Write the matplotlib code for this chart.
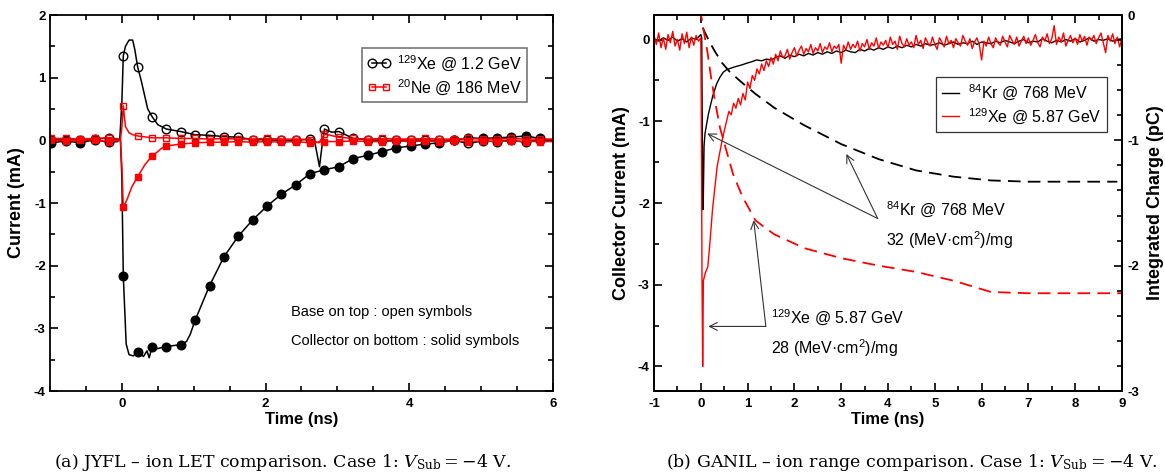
import numpy as np
import matplotlib
matplotlib.use('Agg')
import matplotlib.pyplot as plt
from matplotlib.lines import Line2D
from matplotlib.ticker import MultipleLocator

plt.rcParams['font.family'] = ['Liberation Sans', 'DejaVu Sans']
plt.rcParams['mathtext.fontset'] = 'dejavuserif'
plt.rcParams['axes.unicode_minus'] = False

# ---- (a) JYFL: base / collector currents, symbols every 0.2 ns ----
mark_t = np.round(np.arange(-0.98, 5.9, 0.2), 2)

xe_col_mk = [-0.04, -0.01, -0.04, 0.01, -0.03, -2.16, -3.37, -3.30, -3.29, -3.26,
             -2.87, -2.32, -1.86, -1.53, -1.27, -1.05, -0.86, -0.71, -0.53, -0.47,
             -0.42, -0.29, -0.24, -0.18, -0.12, -0.09, -0.06, -0.04, 0.00, 0.04,
             0.03, 0.04, 0.05, 0.07, 0.03]
xe_col_ex_t = [-0.06, -0.02, 0.0, 0.06, 0.1, 0.16, 0.3, 0.35, 0.38, 0.47, 0.9, 0.95, 5.92, 6.0]
xe_col_ex_y = [-0.02, 0.04, -0.6, -3.25, -3.42, -3.44, -3.45, -3.36, -3.47, -3.33, -3.21, -3.1, 0.01, 0.01]

xe_base_mk = [0.00, 0.01, 0.00, 0.02, 0.04, 1.35, 1.17, 0.38, 0.18, 0.14,
              0.09, 0.08, 0.06, 0.05, 0.01, 0.01, 0.00, 0.00, 0.02, 0.18,
              0.14, 0.03, 0.01, 0.00, 0.00, 0.01, 0.00, 0.00, 0.00, -0.05,
              -0.01, -0.02, 0.00, -0.03, 0.01]
xe_base_ex_t = [-0.03, 0.0, 0.05, 0.1, 0.15, 0.18, 0.27, 0.32, 0.36, 0.5, 2.68, 2.75, 2.79, 2.92, 5.92, 6.0]
xe_base_ex_y = [0.0, 0.6, 1.5, 1.6, 1.6, 1.45, 0.95, 0.7, 0.5, 0.25, 0.0, -0.42, -0.05, 0.13, 0.0, 0.0]

ne_base_mk = [0.03, 0.03, 0.02, 0.03, 0.04, 0.55, 0.07, 0.04, 0.04, 0.03,
              0.03, 0.02, 0.03, 0.02, 0.02, 0.03, 0.02, 0.02, 0.01, 0.10,
              0.05, 0.03, 0.02, 0.03, 0.02, 0.02, 0.03, 0.02, 0.02, 0.03,
              0.02, 0.02, 0.03, 0.02, 0.02]
ne_base_ex_t = [-0.02, 0.0, 0.05, 0.1, 0.15, 2.74, 5.92, 6.0]
ne_base_ex_y = [0.02, 0.2, 0.22, 0.12, 0.09, -0.04, 0.02, 0.02]

ne_col_mk = [0.00, -0.01, 0.00, 0.01, -0.02, -1.07, -0.58, -0.25, -0.09, -0.06,
             -0.04, -0.03, -0.03, -0.02, -0.03, -0.02, -0.03, -0.02, -0.04, -0.02,
             -0.02, -0.01, -0.02, -0.02, -0.01, -0.02, -0.01, -0.02, -0.01, -0.02,
             -0.01, -0.02, -0.01, -0.02, -0.02]
ne_col_ex_t = [-0.02, 0.0, 0.07, 0.14, 0.32, 0.5, 0.55, 5.92, 6.0]
ne_col_ex_y = [0.0, -0.4, -0.95, -0.74, -0.39, -0.18, -0.13, -0.02, -0.02]

# ---- (b) GANIL: collector current (mA) and integrated charge (pC) ----
kr_pre = [0.01, -0.02, 0.02, -0.01, 0.03, -0.02, 0.01, -0.03, 0.02, 0.00]
kr_spk_t = [0.0, 0.02, 0.035, 0.045, 0.055, 0.07, 0.09, 0.12, 0.16, 0.2, 0.26, 0.34,
            0.41, 0.48, 0.55, 0.62, 0.75, 0.88, 0.98, 1.1, 1.19, 1.3, 1.4, 1.5]
kr_spk_i = [0.06, 0.02, -1.4, -2.08, -1.9, -1.3, -1.15, -1.05, -0.92, -0.82, -0.68, -0.54,
            -0.46, -0.40, -0.37, -0.355, -0.33, -0.31, -0.29, -0.27, -0.25, -0.26, -0.24, -0.25]
kr_post = [-0.22, -0.20, -0.23, -0.19, -0.21, -0.18, -0.20, -0.17, -0.19, -0.16,
           -0.18, -0.15, -0.17, -0.14, -0.16, -0.13, -0.15, -0.16, -0.12, -0.14,
           -0.11, -0.13, -0.10, -0.12, -0.09, -0.11, -0.08, -0.10, -0.07, -0.09,
           -0.06, -0.08, -0.05, -0.07, -0.06, -0.04, -0.07, -0.05, -0.03, -0.06,
           -0.04, -0.05, -0.02, -0.06, -0.03, -0.04, -0.05, -0.02, -0.04, -0.01,
           -0.03, -0.05, -0.02, 0.00, -0.04, -0.02, -0.03, 0.01, -0.02, -0.04,
           -0.01, -0.03, 0.00, -0.02, 0.01, -0.03, -0.01, 0.02, -0.02, 0.00,
           -0.01, 0.01, -0.02, 0.00, 0.01]

xe_pre = [0.05, -0.06, 0.08, -0.10, 0.02, -0.12, 0.06, -0.04, 0.10, -0.08,
          0.00, -0.13, 0.07, -0.05, 0.09, -0.10, 0.03, -0.07, 0.05, -0.02]
xe_spk_t = [0.0, 0.015, 0.025, 0.04, 0.055, 0.1, 0.15, 0.2, 0.25, 0.3, 0.35, 0.4, 0.45]
xe_spk_i = [0.02, -1.3, -2.85, -4.0, -2.95, -2.85, -2.78, -2.45, -2.08, -1.82, -1.55, -1.4, -1.25]
xe_post = [-1.12, -1.00, -0.88, -0.92, -0.78, -0.84, -0.72, -0.80, -0.66, -0.74,
           -0.52, -0.60, -0.44, -0.50, -0.36, -0.42, -0.30, -0.38, -0.26, -0.33,
           -0.22, -0.30, -0.18, -0.26, -0.14, -0.22, -0.20, -0.12, -0.24, -0.16,
           -0.10, -0.20, -0.13, -0.08, -0.18, -0.11, -0.15, -0.06, -0.17, -0.10,
           -0.14, -0.05, -0.16, -0.09, -0.12, -0.04, -0.15, -0.08, -0.11, -0.06,
           -0.29, -0.07, -0.13, -0.03, -0.12, -0.06, -0.10, -0.02, -0.14, -0.05,
           -0.09, 0.00, -0.12, -0.04, -0.08, 0.02, -0.11, -0.03, -0.07, -0.01,
           -0.10, 0.03, -0.06, -0.02, -0.12, 0.04, -0.05, -0.09, 0.01, -0.07,
           -0.03, -0.10, 0.05, -0.06, -0.01, -0.11, 0.02, -0.04, -0.08, 0.03,
           -0.06, -0.12, 0.02, -0.03, -0.09, 0.04, -0.05, -0.01, -0.10, 0.01,
           -0.04, -0.08, 0.05, -0.02, -0.07, 0.01, -0.11, -0.03, 0.02, -0.06,
           -0.25, -0.02, -0.08, 0.03, -0.05, -0.10, 0.02, -0.04, -0.07, 0.04,
           -0.03, -0.09, 0.05, -0.01, -0.06, 0.03, -0.08, -0.02, 0.04, -0.05,
           0.02, -0.07, -0.01, 0.06, -0.04, -0.09, 0.03, -0.02, 0.07, -0.05,
           0.01, 0.17, -0.06, 0.03, -0.03, 0.08, -0.08, -0.01, 0.05, -0.04,
           0.02, -0.06, 0.06, -0.02, 0.04, -0.07, 0.03, -0.01, 0.05, -0.05,
           0.02, 0.08, -0.04, -0.16, 0.05, -0.02, 0.07, -0.05, 0.03, -0.09,
           0.02]

kr_q_t = [-1.0, 0.0, 0.05, 0.18, 0.3, 0.45, 0.61, 0.85, 1.17, 1.57, 2.21, 3.0, 3.8, 4.6, 5.4, 6.2, 7.0, 7.8, 8.9]
kr_q = [0.0, 0.0, -0.11, -0.21, -0.29, -0.38, -0.45, -0.53, -0.63, -0.74, -0.88, -1.03, -1.15,
        -1.24, -1.29, -1.32, -1.33, -1.33, -1.33]
xe_q_t = [-1.0, 0.0, 0.05, 0.14, 0.22, 0.3, 0.41, 0.53, 0.69, 0.89, 1.17, 1.57, 2.21, 3.0, 3.8,
          4.6, 5.4, 6.2, 7.0, 7.8, 9.0]
xe_q = [0.0, 0.0, -0.1, -0.29, -0.5, -0.68, -0.9, -1.06, -1.27, -1.45, -1.64, -1.75, -1.86, -1.94,
        -2.0, -2.05, -2.12, -2.21, -2.22, -2.22, -2.22]

# sampling grids of the scope traces
kr_t = np.concatenate([np.round(np.arange(-1.0, -0.05, 0.1), 2), kr_spk_t,
                       np.round(np.arange(1.6, 9.01, 0.1), 2)])
kr_i = np.concatenate([kr_pre, kr_spk_i, kr_post])
xe_t = np.concatenate([np.round(np.arange(-1.0, -0.02, 0.05), 2), xe_spk_t,
                       np.round(np.arange(0.5, 9.01, 0.05), 2)])
xe_i = np.concatenate([xe_pre, xe_spk_i, xe_post])

W, H = 1165, 473
fig = plt.figure(figsize=(W / 100, H / 100), dpi=100)
ax1 = fig.add_axes([50 / W, (H - 391) / H, 503 / W, 376 / H])
ax2 = fig.add_axes([654 / W, (H - 391) / H, 468 / W, 376 / H])
ax3 = ax2.twinx()


def trace(ax, mk_y, ex_t, ex_y, color, marker, filled, ms):
    t = np.concatenate([mark_t, ex_t])
    y = np.concatenate([mk_y, ex_y])
    o = np.argsort(t, kind='stable')
    ax.plot(t[o], y[o], color=color, lw=1.1)
    ax.plot(mark_t, mk_y, ls='none', marker=marker, ms=ms, mew=1.0, mec=color,
            mfc=color if filled else 'none')


trace(ax1, xe_base_mk, xe_base_ex_t, xe_base_ex_y, 'black', 'o', False, 6.2)
trace(ax1, xe_col_mk, xe_col_ex_t, xe_col_ex_y, 'black', 'o', True, 6.2)
trace(ax1, ne_base_mk, ne_base_ex_t, ne_base_ex_y, 'red', 's', False, 5)
trace(ax1, ne_col_mk, ne_col_ex_t, ne_col_ex_y, 'red', 's', True, 5)


def style(ax, xmaj, xmin, ymaj, ymin, **kw):
    ax.xaxis.set_major_locator(MultipleLocator(xmaj))
    ax.xaxis.set_minor_locator(MultipleLocator(xmin))
    ax.yaxis.set_major_locator(MultipleLocator(ymaj))
    ax.yaxis.set_minor_locator(MultipleLocator(ymin))
    ax.tick_params(which='both', direction='in', width=1.2, **kw)
    ax.tick_params(which='major', length=6, labelsize=9.5)
    ax.tick_params(which='minor', length=3.5)
    for s in ax.spines.values():
        s.set_linewidth(1.3)


ax1.set_xlim(-1, 6)
ax1.set_ylim(-4, 2)
style(ax1, 2, 0.5, 1, 0.5, top=True, right=True)
ax1.tick_params(axis='y', pad=3)
ax1.tick_params(axis='x', pad=5)
ax1.set_xticks([0, 2, 4, 6], ['0', '2', '4', '6'], fontweight='bold')
ax1.set_yticks([-4, -3, -2, -1, 0, 1, 2], ['-4', '-3', '-2', '-1', '0', '1', '2'], fontweight='bold')
ax1.set_xlabel('Time (ns)', fontsize=12, fontweight='bold')
ax1.set_ylabel('Current (mA)', fontsize=13, fontweight='bold')
ax1.xaxis.set_label_coords(0.5, -0.055)
ax1.yaxis.set_label_coords(-0.05, 0.5)

hl = [Line2D([], [], color='black', lw=1.1, marker='o', ms=6.2, mfc='none', mew=1.0),
      Line2D([], [], color='red', lw=1.1, marker='s', ms=5, mfc='none', mew=1.0)]
leg = ax1.legend(hl, [r'$\mathregular{^{129}}$Xe @ 1.2 GeV', r'$\mathregular{^{20}}$Ne @ 186 MeV'],
                 loc='upper right', bbox_to_anchor=(0.948, 0.912), borderaxespad=0,
                 fontsize=11.5, numpoints=2, handlelength=1.5, handletextpad=0.4,
                 borderpad=0.3, labelspacing=0.25, fancybox=False, framealpha=1,
                 edgecolor='#777777')
leg.get_frame().set_linewidth(1.2)
ax1.text(2.35, -2.74, 'Base on top : open symbols', fontsize=10.5, va='center')
ax1.text(2.35, -3.21, 'Collector on bottom : solid symbols', fontsize=10.5, va='center')

# right panel
ax2.plot(kr_t, kr_i, color='black', lw=1.0, label=r'$\mathregular{^{84}}$Kr @ 768 MeV')
ax2.plot(xe_t, xe_i, color='red', lw=1.0, label=r'$\mathregular{^{129}}$Xe @ 5.87 GeV')
ax3.plot(kr_q_t, kr_q, color='black', lw=1.3, dashes=(7, 4))
ax3.plot(xe_q_t, xe_q, color='red', lw=1.3, dashes=(7, 4))

ax2.set_xlim(-1, 9)
ax2.set_ylim(-4.3, 0.3)
ax3.set_ylim(-3, 0)
style(ax2, 1, 0.5, 1, 0.5, top=True, right=False)
style(ax3, 1, 0.5, 1, 0.2, top=False, right=True, left=False)
ax2.tick_params(axis='y', pad=3)
ax2.tick_params(axis='x', pad=5)
ax3.tick_params(axis='y', pad=4)
ax2.set_xticks(range(-1, 10), [str(v) for v in range(-1, 10)], fontweight='bold')
ax2.set_yticks([-4, -3, -2, -1, 0], ['-4', '-3', '-2', '-1', '0'], fontweight='bold')
ax3.set_yticks([-3, -2, -1, 0], ['-3', '-2', '-1', '0'], fontweight='bold')
ax2.set_xlabel('Time (ns)', fontsize=12, fontweight='bold')
ax2.set_ylabel('Collector Current (mA)', fontsize=13, fontweight='bold')
ax3.set_ylabel('Integrated Charge (pC)', fontsize=13, fontweight='bold')
ax2.xaxis.set_label_coords(0.5, -0.055)
ax2.yaxis.set_label_coords(-0.051, 0.5)
ax3.yaxis.set_label_coords(1.053, 0.5)

leg2 = ax3.legend(*ax2.get_legend_handles_labels(), loc='upper right',
                  bbox_to_anchor=(0.968, 0.836), borderaxespad=0, fontsize=11.5,
                  handlelength=1.1, handletextpad=0.55, borderpad=0.35,
                  labelspacing=0.25, fancybox=False, framealpha=1, edgecolor='#333333')
leg2.get_frame().set_linewidth(0.9)

arw = dict(arrowstyle='->', lw=0.8, color='#333333', shrinkA=0, shrinkB=0, mutation_scale=14)
ax2.annotate('', xy=(0.136, -1.15), xytext=(3.78, -2.19), arrowprops=arw)
ax2.annotate('', xy=(3.11, -1.40), xytext=(3.78, -2.19), arrowprops=arw)
ax2.annotate('', xy=(0.16, -3.51), xytext=(1.39, -3.51), arrowprops=arw)
ax2.annotate('', xy=(1.13, -2.21), xytext=(1.39, -3.51), arrowprops=arw)
ax2.text(3.96, -2.07, r'$\mathregular{^{84}}$Kr @ 768 MeV', fontsize=11.5, va='center')
ax2.text(3.96, -2.46, r'32 (MeV·cm$\mathregular{^{2}}$)/mg', fontsize=11.5, va='center')
ax2.text(1.49, -3.39, r'$\mathregular{^{129}}$Xe @ 5.87 GeV', fontsize=11.5, va='center')
ax2.text(1.49, -3.78, r'28 (MeV·cm$\mathregular{^{2}}$)/mg', fontsize=11.5, va='center')

cap = dict(fontsize=12.5, family=['DejaVu Serif'], ha='center', va='baseline')
fig.text(283 / W, 6 / H, r'(a) JYFL – ion LET comparison. Case 1: $V_{\mathrm{Sub}}=-4$ V.', **cap)
fig.text(912 / W, 6 / H, r'(b) GANIL – ion range comparison. Case 1: $V_{\mathrm{Sub}}=-4$ V.', **cap)

fig.savefig('out.png', dpi=100)
